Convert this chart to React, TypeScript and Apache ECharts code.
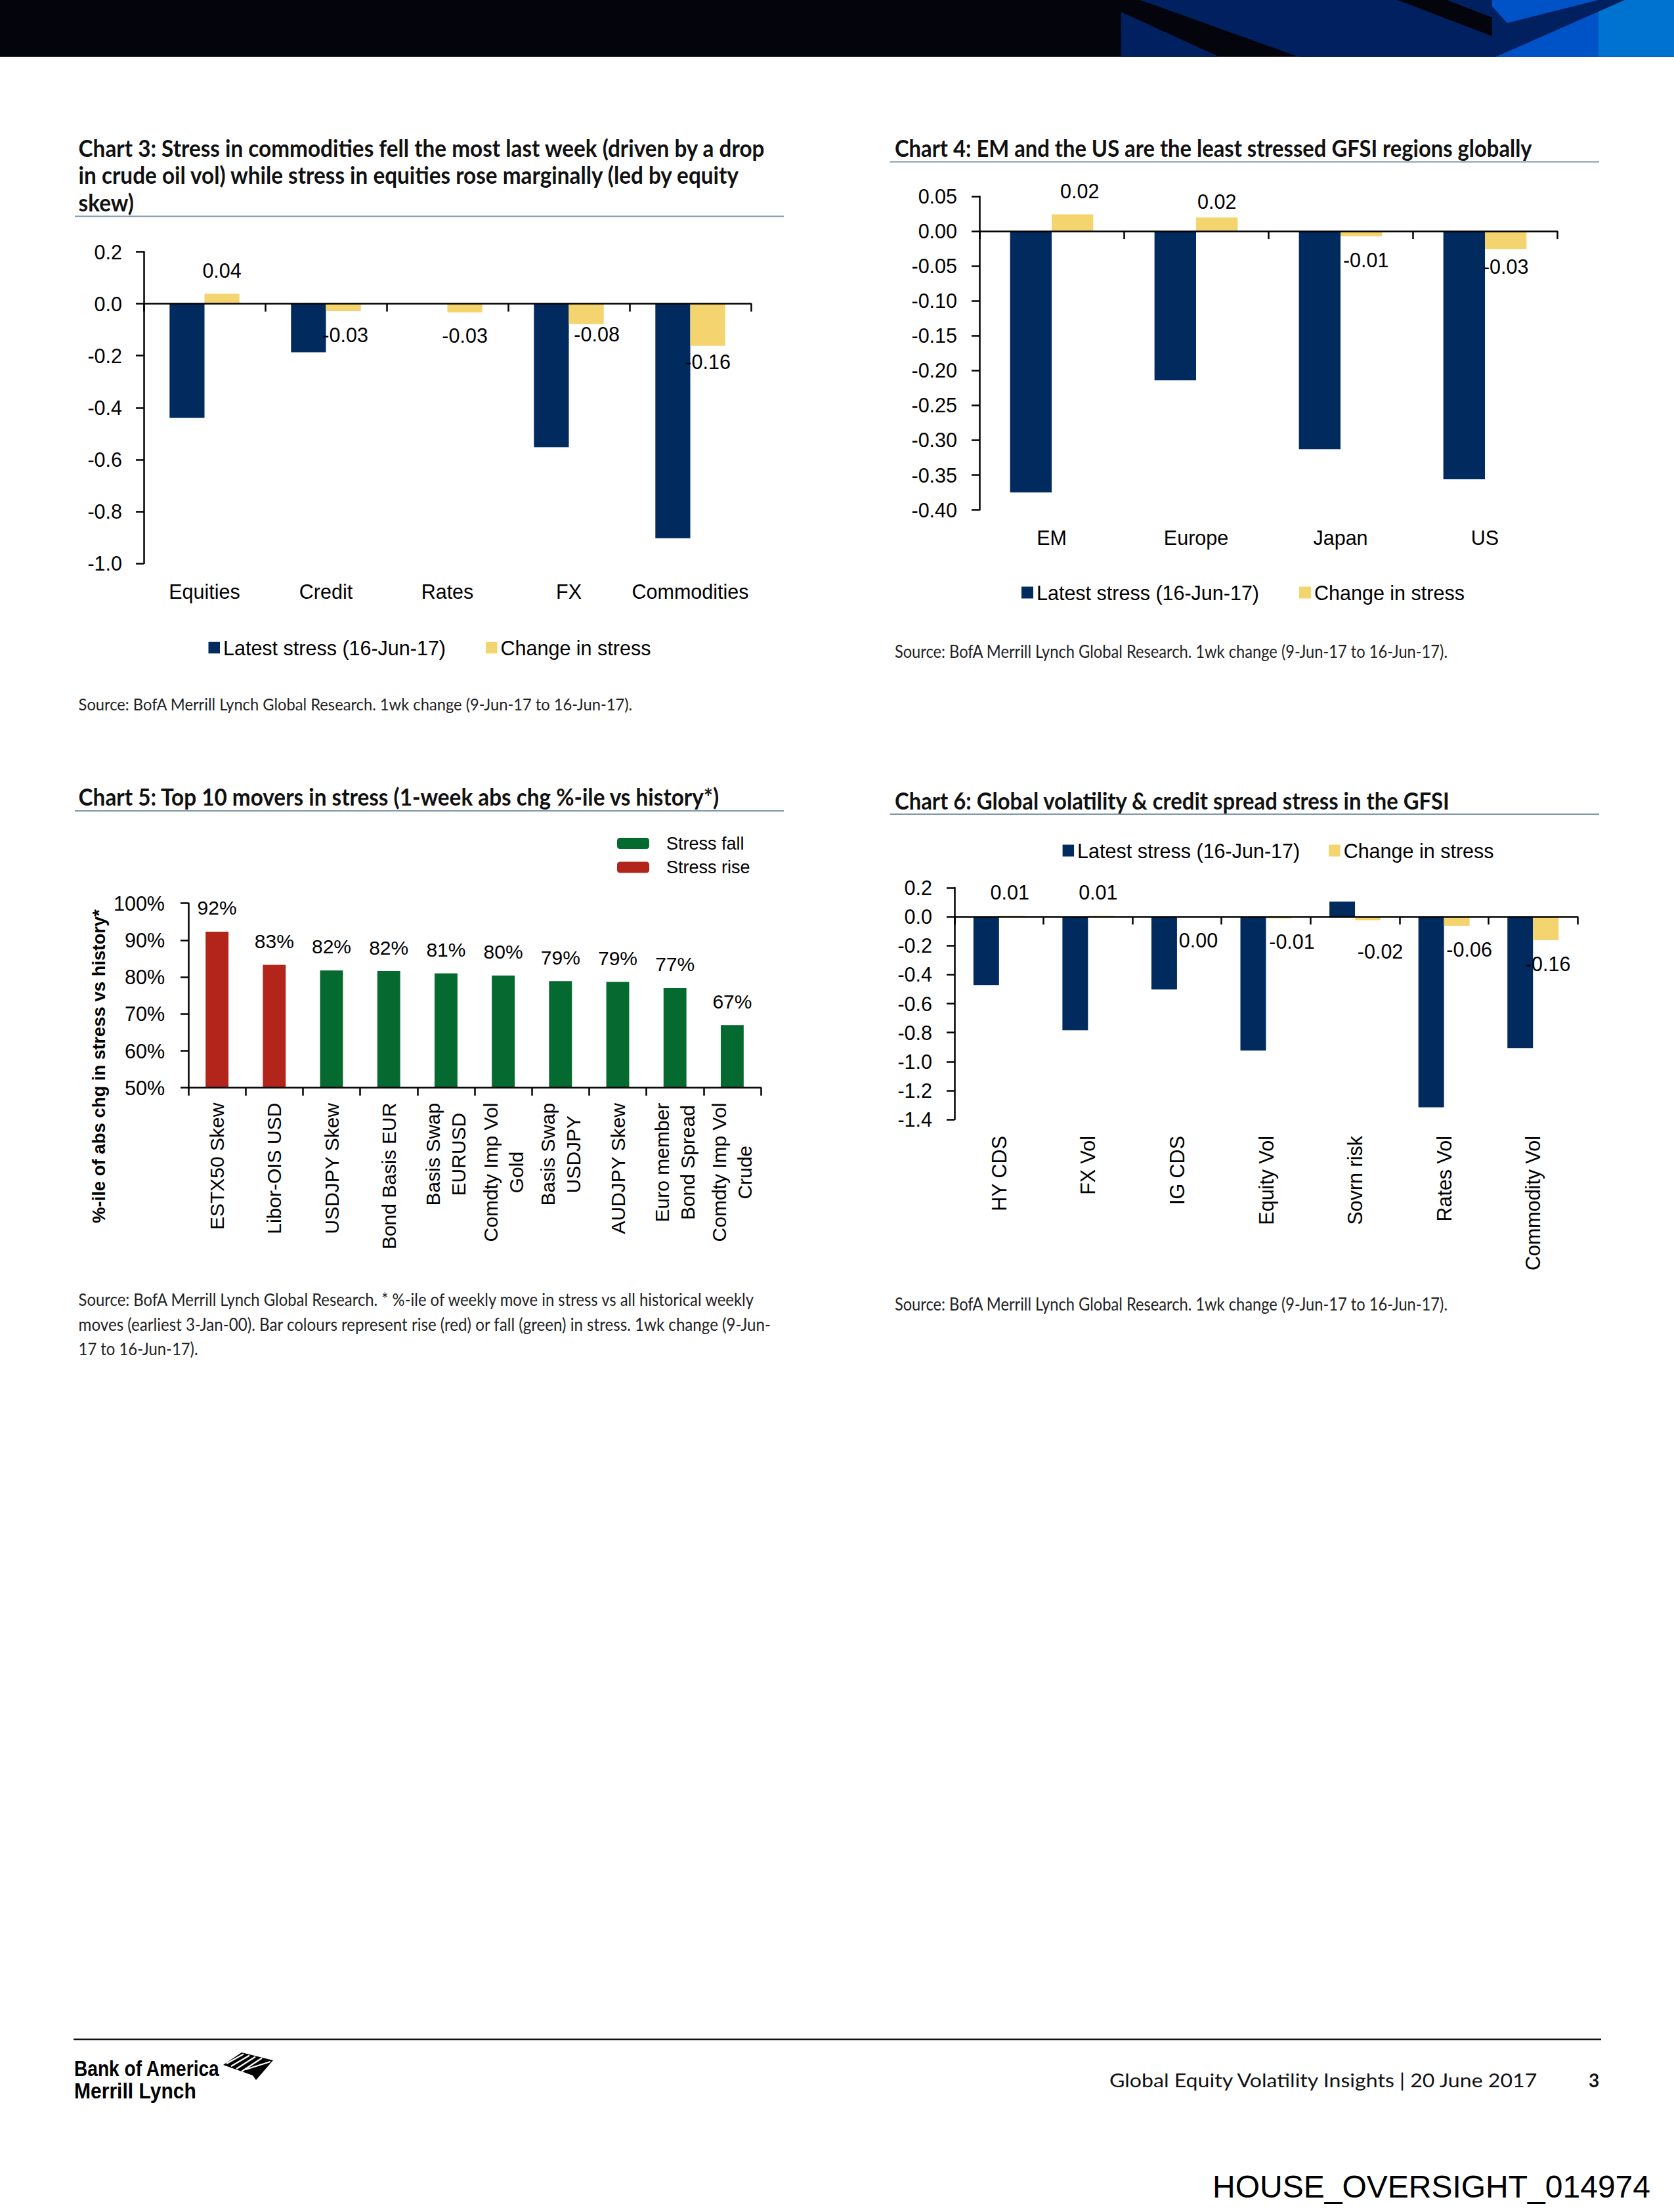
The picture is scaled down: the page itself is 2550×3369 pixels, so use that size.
import React, { useEffect, useRef } from 'react';
import * as echarts from 'echarts';

const PAGE_W = 2550;
const PAGE_H = 3369;

const LATEST = 'Latest stress (16-Jun-17)';
const CHANGE = 'Change in stress';
const FALL = 'Stress fall';
const RISE = 'Stress rise';

// Chart 3
const c3Categories = ['Equities', 'Credit', 'Rates', 'FX', 'Commodities'];
const c3Latest = [-0.44, -0.187, 0.0, -0.553, -0.903];
const c3Change = [0.038, -0.029, -0.033, -0.078, -0.162];
const c3YRange = [-1.0, 0.2, 0.2]; // min, max, step

// Chart 4
const c4Categories = ['EM', 'Europe', 'Japan', 'US'];
const c4Latest = [-0.375, -0.214, -0.313, -0.356];
const c4Change = [0.024, 0.0195, -0.0075, -0.0255];
const c4YRange = [-0.4, 0.05, 0.05];

// Chart 5
const c5Categories = [
  'ESTX50 Skew', 'Libor-OIS USD', 'USDJPY Skew', 'Bond Basis EUR', 'Basis Swap\nEURUSD',
  'Comdty Imp Vol\nGold', 'Basis Swap\nUSDJPY', 'AUDJPY Skew', 'Euro member\nBond Spread', 'Comdty Imp Vol\nCrude',
];
const c5Values = [92.3, 83.3, 81.8, 81.6, 81.0, 80.4, 78.9, 78.7, 77.0, 67.0];
const c5Direction = ['rise', 'rise', 'fall', 'fall', 'fall', 'fall', 'fall', 'fall', 'fall', 'fall'];
const c5YRange = [50, 100, 10];

// Chart 6
const c6Categories = ['HY CDS', 'FX Vol', 'IG CDS', 'Equity Vol', 'Sovrn risk', 'Rates Vol', 'Commodity Vol'];
const c6Latest = [-0.472, -0.785, -0.503, -0.924, 0.104, -1.316, -0.907];
const c6Change = [0.006, 0.006, -0.002, -0.012, -0.024, -0.063, -0.163];
const c6YRange = [-1.4, 0.2, 0.2];

// Label nudges (style only, as placed in the original)
const c3LabelShift = [[0, 0], [3, 0], [0, 0], [16, -20], [0, -11]];
const c4LabelShift = [[11, 0], [0, 11], [7, 0], [0, -9]];
const c6LabelShift = [[-3, 0], [-4, 0], [13, 0], [20, 0], [19, 12], [19, 0], [3, 0]];

// Texts
const title3 = [
  'Chart 3: Stress in commodities fell the most last week (driven by a drop',
  'in crude oil vol) while stress in equities rose marginally (led by equity',
  'skew)',
];
const title4 = 'Chart 4: EM and the US are the least stressed GFSI regions globally';
const title5 = 'Chart 5: Top 10 movers in stress (1-week abs chg %-ile vs history*)';
const title6 = 'Chart 6: Global volatility & credit spread stress in the GFSI';
const sourceStd = 'Source: BofA Merrill Lynch Global Research. 1wk change (9-Jun-17 to 16-Jun-17).';
const source5 = [
  'Source: BofA Merrill Lynch Global Research. * %-ile of weekly move in stress vs all historical weekly',
  'moves (earliest 3-Jan-00). Bar colours represent rise (red) or fall (green) in stress. 1wk change (9-Jun-',
  '17 to 16-Jun-17).',
];
const yName5 = '%-ile of abs chg in stress vs history*';
const footerText = 'Global Equity Volatility Insights | 20 June 2017';
const pageNumber = '3';
const stampText = 'HOUSE_OVERSIGHT_014974';

const BASE_FONT = '"Liberation Sans", Arial, Helvetica, sans-serif';
const NARROW_FONT = '"Liberation Sans Narrow", "Arial Narrow", "Liberation Sans", Arial, sans-serif';
const TFONT = 'Lato, "Open Sans", "Liberation Sans", sans-serif';
const NAVY = '#012a5e';
const YELLOW = '#f4d46e';
const RED = '#b3241b';
const GREEN = '#056a2f';
const RULE = '#7d96ac';

function fmt2(v: number) {
  const s = v.toFixed(2);
  return s === '-0.00' ? '0.00' : s;
}
function tickFmt(d: number) {
  return (v: number) => (Math.abs(v) < 1e-9 ? 0 : v).toFixed(d);
}

export default function App() {
  const ref = useRef<HTMLDivElement>(null);

  useEffect(() => {
    document.body.style.margin = '0';
    const el = ref.current!;
    const chart = echarts.init(el, null, { renderer: 'svg', width: PAGE_W, height: PAGE_H });

    const ctx = document.createElement('canvas').getContext('2d')!;
    const measure = (text: string, font: string) => {
      ctx.font = font;
      return ctx.measureText(text).width;
    };
    const probe = 'abcdefghijklmnopqrstuvwxyz0123456789';
    const hasNarrow = measure(probe, '40px "Liberation Sans Narrow", monospace') !== measure(probe, '40px monospace');
    const FONT = hasNarrow ? NARROW_FONT : BASE_FONT;
    const K = hasNarrow ? 1.18 : 1;
    const FS = 30.5 * K;

    const fitScale = (text: string, size: number, weight: string | number, family: string, target: number) =>
      target / measure(text, `${weight} ${size}px ${family}`);
    const textEl = (
      text: string, x: number, y: number, size: number, weight: string | number, family: string,
      color: string, sx = 1, align = 'left', rotation = 0,
    ) => ({
      type: 'text', x, y, scaleX: sx, scaleY: 1, rotation, silent: true, z: 50,
      style: {
        text, fontSize: size, fontWeight: weight, fontFamily: family, fill: color,
        align, verticalAlign: 'middle', textAlign: align, textVerticalAlign: 'middle',
      },
    });

    const axisLineStyle = { color: '#000', width: 2.5 };
    const zeroAxis = (gridIndex: number, data: string[]) => ({
      type: 'category', gridIndex, data, position: 'bottom', z: 10,
      axisLine: { show: true, onZero: true, lineStyle: axisLineStyle },
      axisTick: { show: true, length: 12, inside: false, alignWithLabel: false, lineStyle: axisLineStyle },
      axisLabel: { show: false },
      splitLine: { show: false },
    });
    const labelAxis = (gridIndex: number, data: string[], margin: number, rotate = 0) => ({
      type: 'category', gridIndex, data, position: 'bottom',
      axisLine: { show: false, onZero: false },
      axisTick: { show: false },
      splitLine: { show: false },
      axisLabel: { show: true, interval: 0, margin, rotate, color: '#000', fontSize: FS, fontFamily: FONT },
    });
    const valueAxis = (gridIndex: number, range: number[], fmt: any, margin: number, extra: any = {}) => ({
      type: 'value', gridIndex, min: range[0], max: range[1], interval: range[2],
      axisLine: { show: true, onZero: false, lineStyle: axisLineStyle },
      axisTick: { show: true, length: 12, lineStyle: axisLineStyle },
      splitLine: { show: false },
      axisLabel: { margin, color: '#000', fontSize: FS, fontFamily: FONT, formatter: fmt },
      ...extra,
    });

    const changeLabel = {
      show: true, distance: 20, color: '#000', fontSize: FS, fontFamily: FONT,
      formatter: (p: any) => fmt2(p.value),
    };
    const changeData = (arr: number[], shift: number[][]) =>
      arr.map((v, i) => ({ value: v, label: { position: v > 0 ? 'top' : 'bottom', offset: shift[i] } }));

    const pairSeries = (axisIdx: number, yIdx: number, latest: number[], change: number[], shift: number[][], gap: string) => [
      {
        type: 'bar', name: LATEST, xAxisIndex: axisIdx, yAxisIndex: yIdx, data: latest,
        itemStyle: { color: NAVY }, barGap: '0%', barCategoryGap: gap,
      },
      {
        type: 'bar', name: CHANGE, xAxisIndex: axisIdx, yAxisIndex: yIdx, data: changeData(change, shift),
        itemStyle: { color: YELLOW }, barGap: '0%', barCategoryGap: gap, label: changeLabel,
      },
    ];

    // Chart 5 rich labels: block right-aligned to axis, lines centred within block
    const FS5 = 30 * K;
    const LFONT5 = `${FS5}px ${FONT}`;
    const rich5: any = {};
    c5Categories.forEach((c, i) => {
      const w = Math.max(...c.split('\n').map((l) => measure(l, LFONT5))) + 2;
      rich5['r' + i] = { width: w, align: 'center', fontSize: FS5, fontFamily: FONT, lineHeight: 39, color: '#000' };
    });
    const c5Fall = c5Values.map((v, i) => (c5Direction[i] === 'fall' ? v : null));
    const c5Rise = c5Values.map((v, i) => (c5Direction[i] === 'rise' ? v : null));
    const label5 = {
      show: true, position: 'top', distance: 21, color: '#000', fontSize: FS5, fontFamily: FONT,
      formatter: (p: any) => Math.round(p.value) + '%',
    };

    // ---------- graphic ----------
    const els: any[] = [];
    // header band
    els.push({ type: 'rect', silent: true, shape: { x: 0, y: 0, width: PAGE_W, height: 86.7 }, style: { fill: '#03040c' } });
    els.push({ type: 'polygon', silent: true, shape: { points: [[1707.7, 18.3], [1707.7, 86.7], [1857.7, 86.7]] }, style: { fill: '#00205f' } });
    els.push({ type: 'polygon', silent: true, shape: { points: [[1736.6, 0], [2129, 0], [2273, 55], [2273, 86.7], [1978.9, 86.7]] }, style: { fill: '#00205f' } });
    els.push({ type: 'polygon', silent: true, shape: { points: [[2204, 0], [2273, 0], [2273, 26.7]] }, style: { fill: '#00205f' } });
    els.push({ type: 'rect', silent: true, shape: { x: 2273, y: 0, width: 162, height: 86.7 }, style: { fill: '#0053c6' } });
    els.push({ type: 'rect', silent: true, shape: { x: 2435, y: 0, width: 115, height: 86.7 }, style: { fill: '#0072cf' } });
    els.push({ type: 'polygon', silent: true, shape: { points: [[2273, 10], [2296, 35], [2434.6, 0], [2475, 0], [2278, 86.7], [2273, 86.7]] }, style: { fill: '#00205f' } });

    // titles
    const TS = 36;
    const s3 = fitScale(title3[0], TS, 700, TFONT, 1047);
    title3.forEach((t, i) => els.push(textEl(t, 119.6, [225.3, 266.3, 307.7][i], TS, 700, TFONT, '#111', s3)));
    els.push(textEl(title4, 1362.9, 225.3, TS, 700, TFONT, '#111', fitScale(title4, TS, 700, TFONT, 971)));
    els.push(textEl(title5, 119.6, 1212.8, TS, 700, TFONT, '#111', fitScale(title5, TS, 700, TFONT, 978)));
    els.push(textEl(title6, 1362.9, 1219.2, TS, 700, TFONT, '#111', fitScale(title6, TS, 700, TFONT, 847)));
    // rules under titles
    const rule = (x1: number, x2: number, y: number) => ({
      type: 'line', silent: true, shape: { x1, y1: y, x2, y2: y }, style: { stroke: RULE, lineWidth: 2 },
    });
    els.push(rule(114, 1194, 329.5));
    els.push(rule(1355.7, 2436, 246.6));
    els.push(rule(114, 1194, 1235));
    els.push(rule(1355.7, 2436, 1240));

    // sources
    const SRC = 26;
    const SW = 400;
    const SC = '#222';
    els.push(textEl(sourceStd, 119.6, 1071.5, SRC, SW, TFONT, SC, fitScale(sourceStd, SRC, SW, TFONT, 845)));
    els.push(textEl(sourceStd, 1362.9, 992, SRC, SW, TFONT, SC, fitScale(sourceStd, SRC, SW, TFONT, 843)));
    els.push(textEl(sourceStd, 1362.9, 1985.2, SRC, SW, TFONT, SC, fitScale(sourceStd, SRC, SW, TFONT, 843)));
    const s5a = fitScale(source5[0], SRC, SW, TFONT, 1032);
    const s5b = fitScale(source5[1], SRC, SW, TFONT, 1055);
    els.push(textEl(source5[0], 119.6, 1979, SRC, SW, TFONT, SC, s5a));
    els.push(textEl(source5[1], 119.6, 2017, SRC, SW, TFONT, SC, s5b));
    els.push(textEl(source5[2], 119.6, 2054, SRC, SW, TFONT, SC, s5a));

    // chart 5 y-axis name
    const yNameSize = 27 * K;
    els.push(textEl(yName5, 151, 1624, yNameSize, 'bold', FONT, '#000',
      fitScale(yName5, yNameSize, 'bold', FONT, 478), 'center', Math.PI / 2));

    // footer
    els.push({ type: 'line', silent: true, shape: { x1: 112, y1: 3106, x2: 2439, y2: 3106 }, style: { stroke: '#111', lineWidth: 2.5 } });
    els.push(textEl('Bank of America', 113, 3150, 33, 900, BASE_FONT, '#000', fitScale('Bank of America', 33, 900, BASE_FONT, 222)));
    els.push(textEl('Merrill Lynch', 113, 3185, 33, 900, BASE_FONT, '#000', fitScale('Merrill Lynch', 33, 900, BASE_FONT, 186)));
    els.push({ type: 'polygon', silent: true, shape: { points: [[340, 3145], [368, 3126], [416, 3138], [390, 3168], [385, 3161]] }, style: { fill: '#000' } });
    [[345, 3143, 371, 3128.5], [352, 3147, 380, 3130.5], [360, 3151, 389, 3132.5], [368, 3155, 399, 3134.5]].forEach((l) =>
      els.push({ type: 'line', silent: true, shape: { x1: l[0], y1: l[1], x2: l[2], y2: l[3] }, style: { stroke: '#fff', lineWidth: 2.2 } }),
    );
    els.push({ type: 'line', silent: true, shape: { x1: 374, y1: 3152, x2: 412, y2: 3140 }, style: { stroke: '#fff', lineWidth: 2.2 } });
    els.push(textEl(footerText, 1690, 3168, 28, 400, TFONT, '#111', fitScale(footerText, 28, 400, TFONT, 655)));
    els.push(textEl(pageNumber, 2420, 3168, 28, 700, TFONT, '#111'));
    els.push(textEl(stampText, 1847, 3330, 48, 400, BASE_FONT, '#000', fitScale(stampText, 48, 400, BASE_FONT, 667)));

    const legendText = { color: '#000', fontSize: FS, fontFamily: FONT, lineHeight: 30 };

    const option: any = {
      animation: false,
      backgroundColor: '#ffffff',
      textStyle: { fontFamily: FONT },
      grid: [
        { left: 219, top: 383.5, width: 925, height: 474.5, containLabel: false, outerBoundsMode: 'none' },
        { left: 1492, top: 299, width: 880, height: 477.6, containLabel: false, outerBoundsMode: 'none' },
        { left: 287, top: 1375.7, width: 872, height: 281, containLabel: false, outerBoundsMode: 'none' },
        { left: 1454, top: 1352, width: 949, height: 353, containLabel: false, outerBoundsMode: 'none' },
      ],
      xAxis: [
        zeroAxis(0, c3Categories),
        labelAxis(0, c3Categories, 27),
        zeroAxis(1, c4Categories),
        labelAxis(1, c4Categories, 27),
        {
          type: 'category', gridIndex: 2, data: c5Categories, position: 'bottom', z: 10,
          axisLine: { show: true, onZero: false, lineStyle: axisLineStyle },
          axisTick: { show: true, length: 12, alignWithLabel: false, lineStyle: axisLineStyle },
          splitLine: { show: false },
          axisLabel: {
            show: true, interval: 0, margin: 22, rotate: 90, color: '#000', fontSize: FS5, fontFamily: FONT,
            formatter: (v: string, i: number) => v.split('\n').map((l) => `{r${i}|${l}}`).join('\n'),
            rich: rich5,
          },
        },
        zeroAxis(3, c6Categories),
        labelAxis(3, c6Categories, 25, 90),
      ],
      yAxis: [
        valueAxis(0, c3YRange, tickFmt(1), 33),
        valueAxis(1, c4YRange, tickFmt(2), 34),
        valueAxis(2, c5YRange, (v: number) => `${v}%`, 36, { startValue: 50 }),
        valueAxis(3, c6YRange, tickFmt(1), 34),
      ],
      legend: [
        {
          data: [LATEST, CHANGE], left: 317.5, top: 971, orient: 'horizontal', padding: 0,
          itemWidth: 17.5, itemHeight: 17.5, itemGap: 61, icon: 'rect', selectedMode: false,
          itemStyle: { borderWidth: 0 }, textStyle: legendText,
        },
        {
          data: [LATEST, CHANGE], left: 1556, top: 887, orient: 'horizontal', padding: 0,
          itemWidth: 18, itemHeight: 18, itemGap: 61, icon: 'rect', selectedMode: false,
          itemStyle: { borderWidth: 0 }, textStyle: legendText,
        },
        {
          data: [FALL, RISE], left: 940, top: 1271, orient: 'vertical', padding: 0,
          itemWidth: 49, itemHeight: 17, itemGap: 9.5, icon: 'roundRect', selectedMode: false,
          itemStyle: { borderWidth: 0 },
          textStyle: { color: '#000', fontSize: 27 * K, fontFamily: FONT, lineHeight: 27, padding: [0, 0, 0, 21] },
        },
        {
          data: [LATEST, CHANGE], left: 1618.6, top: 1280, orient: 'horizontal', padding: 0,
          itemWidth: 17.5, itemHeight: 18, itemGap: 44, icon: 'rect', selectedMode: false,
          itemStyle: { borderWidth: 0 }, textStyle: legendText,
        },
      ],
      series: [
        ...pairSeries(0, 0, c3Latest, c3Change, c3LabelShift, '42.5%'),
        ...pairSeries(2, 1, c4Latest, c4Change, c4LabelShift, '42.4%'),
        {
          type: 'bar', name: FALL, xAxisIndex: 4, yAxisIndex: 2, data: c5Fall, clip: true,
          itemStyle: { color: GREEN }, barGap: '-100%', barCategoryGap: '60%', label: label5,
        },
        {
          type: 'bar', name: RISE, xAxisIndex: 4, yAxisIndex: 2, data: c5Rise, clip: true,
          itemStyle: { color: RED }, barGap: '-100%', barCategoryGap: '60%', label: label5,
        },
        ...pairSeries(5, 3, c6Latest, c6Change, c6LabelShift, '42.5%'),
      ],
      graphic: { elements: els },
    };

    chart.setOption(option);
    return () => chart.dispose();
  }, []);

  return (
    <div
      ref={ref}
      style={{ position: 'absolute', left: 0, top: 0, width: PAGE_W, height: PAGE_H, background: '#fff' }}
    />
  );
}
